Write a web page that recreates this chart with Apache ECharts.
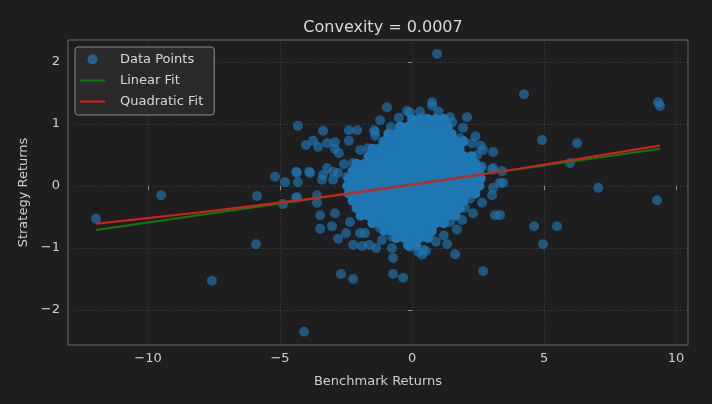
<!DOCTYPE html>
<html>
<head>
<meta charset="utf-8">
<script src="https://cdn.jsdelivr.net/npm/echarts@6/dist/echarts.min.js"></script>
<style>
html,body{margin:0;padding:0;background:#1e1e1e;}
#chart{width:712px;height:404px;}
</style>
</head>
<body>
<div id="chart"></div>
<script>
// ---- Data ----
const titleText = 'Convexity = 0.0007';
const xTicks = [-10, -5, 0, 5, 10];
const yTicks = [-2, -1, 0, 1, 2];

// Scattered / outlying points [benchmark, strategy]
const outlierPoints = [
  [-11.97,-0.53],[-9.5,-0.15],[-7.58,-1.53],[-5.87,-0.16],[-5.91,-0.94],[-4.09,-2.35],
  [0.95,2.13],[4.24,1.48],[9.32,1.35],[9.39,1.29],[4.92,0.74],[6.25,0.69],[5.98,0.37],
  [7.05,-0.03],[9.28,-0.23],[4.62,-0.65],[5.49,-0.65],[4.96,-0.94],[2.69,-1.37]
];
const fringePoints = [
  [-4.32,0.97],[-4.02,0.66],[-5.19,0.15],[-4.81,0.06],[-4.39,0.23],[-4.32,0.06],[-3.9,0.23],
  [-4.89,-0.29],[-4.39,-0.19],[-3.6,-0.15],[-3.6,-0.27],[-3.48,-0.47],[-3.03,-0.65],[-3.48,-0.69],
  [-2.8,-0.85],[-2.5,-0.76],[-2.35,-0.58],[-2.23,-0.95],[-1.89,-0.97],[-1.63,-0.95],[-1.36,-1.0],
  [-1.14,-0.87],[-0.72,-1.16],[-0.76,-1.0],[-2.69,-1.42],[-2.23,-1.5],[-0.72,-1.42],[-0.34,-1.48],
  [0.38,-1.11],[0.53,-1.05],[1.33,-0.94],[1.63,-1.1],
  [-3.37,0.89],[-2.39,0.9],[-2.08,0.9],[-1.44,0.9],[-1.4,0.81],[-3.75,0.73],[-3.56,0.63],
  [-3.22,0.69],[-2.92,0.71],[-2.77,0.53],[-2.39,0.73],[-1.1,0.71],[-0.72,0.71],[-2.58,0.35],
  [-3.22,0.29],[-4.36,0.21],[-3.86,0.21],[-3.37,0.18],[-2.8,0.21],[-2.99,0.1],[-2.46,0.15],[-4.36,-0.18],
  [0.76,1.35],[0.76,1.3],[-0.95,1.27],[-1.21,1.06],[-0.19,1.21],[-0.08,1.18],[2.08,1.11],
  [1.44,1.11],[0.42,1.1],[1.17,1.03],[1.52,1.03],[1.93,0.94],[1.82,0.77],[2.27,0.69],
  [2.69,0.58],[3.07,0.55],[2.65,0.31],[3.07,0.29],[3.41,0.24],[3.45,0.05],[3.07,-0.03],
  [3.03,-0.15],[3.14,-0.47],[3.33,-0.47],[2.58,0.31],[3.03,0.26],[3.33,0.05],[2.46,0.5],
  [2.31,-0.44],[2.65,-0.27],[0.42,-1.03],[0.68,-0.79],[1.44,-0.58],[0.04,-0.9],
  [-2.92,-0.44],[-1.97,-0.76],[-1.78,-0.76],[-1.21,-0.68],[-0.76,-0.82],[-0.08,-0.98],[0.23,-1.06],
  [-2.92,0.6],[-1.97,0.58],[-1.67,0.61],[-1.29,0.6],[-2.23,0.37],[-2.99,0.23],[-3.41,0.1],[-1.4,0.87],
  [2.0,-0.35],[1.9,-0.55],[2.2,-0.2],[1.7,-0.7],[1.2,-0.8],[0.9,-0.9],
  [0.3,1.2],[1.0,1.2],[-0.5,1.1],[-0.8,0.95],[2.4,0.8],[2.6,0.65]
];
// Dense central cluster, listed row by row: y value and x values of that row
const coreRowY = [1.08,0.96,0.84,0.72,0.60,0.48,0.36,0.24,0.12,0.00,-0.12,-0.24,-0.36,-0.48,-0.60,-0.72,-0.84,-0.96];
const coreRowX = [
  [0,0.3,0.6,0.9,1.2],
  [-0.45,-0.15,0.15,0.45,0.75,1.05,1.35],
  [-0.9,-0.6,-0.3,0,0.3,0.6,0.9,1.2,1.5],
  [-1.05,-0.75,-0.45,-0.15,0.15,0.45,0.75,1.05,1.35,1.65,1.95],
  [-1.5,-1.2,-0.9,-0.6,-0.3,0,0.3,0.6,0.9,1.2,1.5,1.8],
  [-1.65,-1.35,-1.05,-0.75,-0.45,-0.15,0.15,0.45,0.75,1.05,1.35,1.65,1.95,2.25],
  [-2.1,-1.8,-1.5,-1.2,-0.9,-0.6,-0.3,0,0.3,0.6,0.9,1.2,1.5,1.8,2.1,2.4],
  [-2.25,-1.95,-1.65,-1.35,-1.05,-0.75,-0.45,-0.15,0.15,0.45,0.75,1.05,1.35,1.65,1.95,2.25,2.55],
  [-2.4,-2.1,-1.8,-1.5,-1.2,-0.9,-0.6,-0.3,0,0.3,0.6,0.9,1.2,1.5,1.8,2.1,2.4,2.6],
  [-2.45,-2.25,-1.95,-1.65,-1.35,-1.05,-0.75,-0.45,-0.15,0.15,0.45,0.75,1.05,1.35,1.65,1.95,2.25,2.55],
  [-2.4,-2.1,-1.8,-1.5,-1.2,-0.9,-0.6,-0.3,0,0.3,0.6,0.9,1.2,1.5,1.8,2.1,2.4],
  [-2.25,-1.95,-1.65,-1.35,-1.05,-0.75,-0.45,-0.15,0.15,0.45,0.75,1.05,1.35,1.65,1.95],
  [-2.1,-1.8,-1.5,-1.2,-0.9,-0.6,-0.3,0,0.3,0.6,0.9,1.2,1.5,1.8],
  [-1.95,-1.65,-1.35,-1.05,-0.75,-0.45,-0.15,0.15,0.45,0.75,1.05,1.35,1.65],
  [-1.5,-1.2,-0.9,-0.6,-0.3,0,0.3,0.6,0.9,1.2],
  [-1.05,-0.75,-0.45,-0.15,0.15,0.45,0.75],
  [-0.6,-0.3,0,0.3,0.6],
  [-0.15,0.15]
];
// Fit lines
const linearFitX = [-11.97, 9.39];
const linearFitY = [-0.71, 0.60];
const quadFitX = [-11.97, -8, -4, 0, 4, 8, 9.39];
const quadFitY = [-0.61, -0.425, -0.214, 0.02, 0.276, 0.555, 0.654];

// ---- Build series data ----
const corePoints = [];
coreRowY.forEach((y, i) => coreRowX[i].forEach(x => corePoints.push([x, y])));
const scatterPoints = outlierPoints.concat(fringePoints);
const zip = (xs, ys) => xs.map((x, i) => [x, ys[i]]);

const fmt = v => (v < 0 ? '\u2212' + Math.abs(v) : String(v));
const FONT = 'DejaVu Sans';
const blue = '#1f77b4';
const green = '#0a7d0a';
const red = '#e01b1b';
// thin horizontal bar inside an invisible 25x10 box, so the legend draws a line sample
const lineIcon = 'path://M0,0M25,0M25,10M0,10M0,4L25,4L25,6L0,6Z';

const chart = echarts.init(document.getElementById('chart'), null, {renderer: 'canvas'});
chart.setOption({
  backgroundColor: '#1e1e1e',
  animation: false,
  title: {
    text: titleText,
    left: 378, top: 15, textAlign: 'center',
    textStyle: {color: '#d8d8d8', fontSize: 16, fontWeight: 'normal', fontFamily: FONT}
  },
  grid: {left: 68, right: 24, top: 40, bottom: 59, show: true, borderColor: '#6a6a6a', borderWidth: 1, backgroundColor: '#1e1e1e'},
  legend: {
    orient: 'vertical', left: 75, top: 47,
    backgroundColor: '#2a2a2a', borderColor: '#8a8a8a', borderWidth: 1, borderRadius: 3,
    padding: [6, 11, 7, 5], itemGap: 8, itemWidth: 25, itemHeight: 10,
    textStyle: {color: '#d8d8d8', fontSize: 13, fontFamily: FONT, padding: [0, 0, 0, 10]},
    data: [
      {name: 'Data Points', icon: 'circle', itemStyle: {color: blue, opacity: 0.75}},
      {name: 'Linear Fit', icon: lineIcon, itemStyle: {color: green}},
      {name: 'Quadratic Fit', icon: lineIcon, itemStyle: {color: red}}
    ]
  },
  xAxis: {
    type: 'value', min: -13.03, max: 10.45, splitNumber: 5,
    name: 'Benchmark Returns', nameLocation: 'middle', nameGap: 30,
    nameTextStyle: {color: '#cfcfcf', fontSize: 13, fontFamily: FONT},
    axisLine: {show: false},
    axisTick: {show: true, length: 4, lineStyle: {color: '#8a8a8a'}, customValues: xTicks},
    axisLabel: {color: '#cfcfcf', fontSize: 13, fontFamily: FONT, margin: 7, formatter: fmt, customValues: xTicks, showMinLabel: true, showMaxLabel: true},
    splitLine: {show: true, lineStyle: {color: '#4a4a4a', type: [1, 2], width: 0.8}}
  },
  yAxis: {
    type: 'value', min: -2.565, max: 2.355, splitNumber: 5,
    name: 'Strategy Returns', nameLocation: 'middle', nameGap: 38,
    nameTextStyle: {color: '#cfcfcf', fontSize: 13, fontFamily: FONT},
    axisLine: {show: false},
    axisTick: {show: true, length: 4, lineStyle: {color: '#8a8a8a'}, customValues: yTicks},
    axisLabel: {color: '#cfcfcf', fontSize: 13, fontFamily: FONT, margin: 8, formatter: fmt, customValues: yTicks, showMinLabel: true, showMaxLabel: true},
    splitLine: {show: true, lineStyle: {color: '#4a4a4a', type: [1, 2], width: 0.8}}
  },
  series: [
    {
      name: 'Data Points', type: 'scatter', data: corePoints, symbolSize: 10,
      itemStyle: {color: blue, opacity: 1}, z: 2, silent: true
    },
    {
      name: 'Data Points', type: 'scatter', data: scatterPoints, symbolSize: 10,
      itemStyle: {color: blue, opacity: 0.65}, z: 2, silent: true
    },
    {
      name: 'Linear Fit', type: 'line', data: zip(linearFitX, linearFitY),
      showSymbol: false, symbol: 'none', z: 3,
      lineStyle: {color: green, width: 2}, itemStyle: {color: green}
    },
    {
      name: 'Quadratic Fit', type: 'line', data: zip(quadFitX, quadFitY),
      showSymbol: false, symbol: 'none', z: 4,
      lineStyle: {color: red, width: 2}, itemStyle: {color: red}
    }
  ]
});
</script>
</body>
</html>
